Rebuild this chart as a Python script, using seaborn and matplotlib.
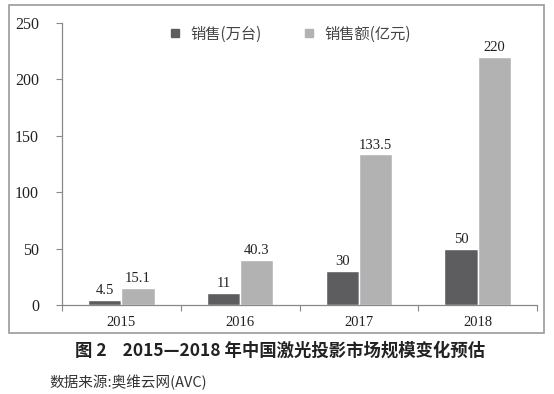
import matplotlib
matplotlib.use("Agg")
import matplotlib.pyplot as plt
import seaborn as sns
import pandas as pd
from matplotlib.patches import Rectangle
from matplotlib.lines import Line2D

years = ["2015", "2016", "2017", "2018"]
units = [4.5, 11, 30, 50]
sales = [15.1, 40.3, 133.5, 220]
series_names = ["销售(万台)", "销售额(亿元)"]
unit_labels = ["4.5", "11", "30", "50"]
sales_labels = ["15.1", "40.3", "133.5", "220"]
title_text = "图 2    2015—2018 年中国激光投影市场规模变化预估"
source_text = "数据来源:奥维云网(AVC)"

sns.set_theme(style="white")
plt.rcParams['font.family'] = ['Noto Sans CJK SC', 'DejaVu Sans']

df = pd.DataFrame({
    "year": years * 2,
    "value": units + sales,
    "series": [series_names[0]] * 4 + [series_names[1]] * 4,
})

dark = "#5d5c5f"
light = "#b2b2b2"

fig = plt.figure(figsize=(5.54, 3.94), dpi=100)
ax = fig.add_axes([62/554, 1-305/394, (537-62)/554, (305-23)/394])

sns.barplot(data=df, x="year", y="value", hue="series", palette=[dark, light],
            width=0.56, ax=ax, legend=False, saturation=1)

ax.set_ylim(0, 250)
ax.set_xlim(-0.5, 3.5)
ax.set_xlabel("")
ax.set_ylabel("")
ax.set_yticks([0, 50, 100, 150, 200, 250])
ax.set_yticklabels(["0", "50", "100", "150", "200", "250"],
                   fontfamily="Liberation Serif", fontsize=11.5, color="#222222")
ax.set_xticks(range(4))
ax.set_xticklabels(years, fontfamily="Liberation Serif", fontsize=10.5, color="#222222")
ax.set_xticks([-0.5, 0.5, 1.5, 2.5, 3.5], minor=True)
ax.tick_params(axis="x", which="major", length=0, pad=8)
ax.tick_params(axis="x", which="minor", length=4, width=0.8, color="#888888", direction="out", bottom=True)
ax.tick_params(axis="y", length=4, width=0.8, color="#888888", direction="out", left=True, pad=12.5)

for s in ["top", "right"]:
    ax.spines[s].set_visible(False)
for s in ["left", "bottom"]:
    ax.spines[s].set_color("#888888")
    ax.spines[s].set_linewidth(0.9)

for cont, labs in zip(ax.containers, [unit_labels, sales_labels]):
    ax.bar_label(cont, labels=labs, padding=2, fontfamily="Liberation Serif",
                 fontsize=10.5, color="#222222")

handles = [Line2D([], [], marker="s", linestyle="none", markersize=6, color=dark),
           Line2D([], [], marker="s", linestyle="none", markersize=6, color=light)]
leg = ax.legend(handles, series_names, loc="upper center", bbox_to_anchor=(0.478, 1.04),
                ncol=2, frameon=False, fontsize=11, handletextpad=0.5, columnspacing=2.6,
                handlelength=1.0)
for t in leg.get_texts():
    t.set_color("#444444")

fig.add_artist(Rectangle((9/554, 1-333/394), (544-9)/554, (333-5)/394,
                         transform=fig.transFigure, fill=False,
                         edgecolor="#999999", linewidth=1.2))

fig.text(280/554, 1-351/394, title_text, ha="center", va="center",
         fontsize=12.5, fontweight="bold", color="#222222")
fig.text(49/554, 1-382/394, source_text, ha="left", va="center",
         fontsize=10.5, color="#333333")

fig.savefig("out.png", dpi=100)
